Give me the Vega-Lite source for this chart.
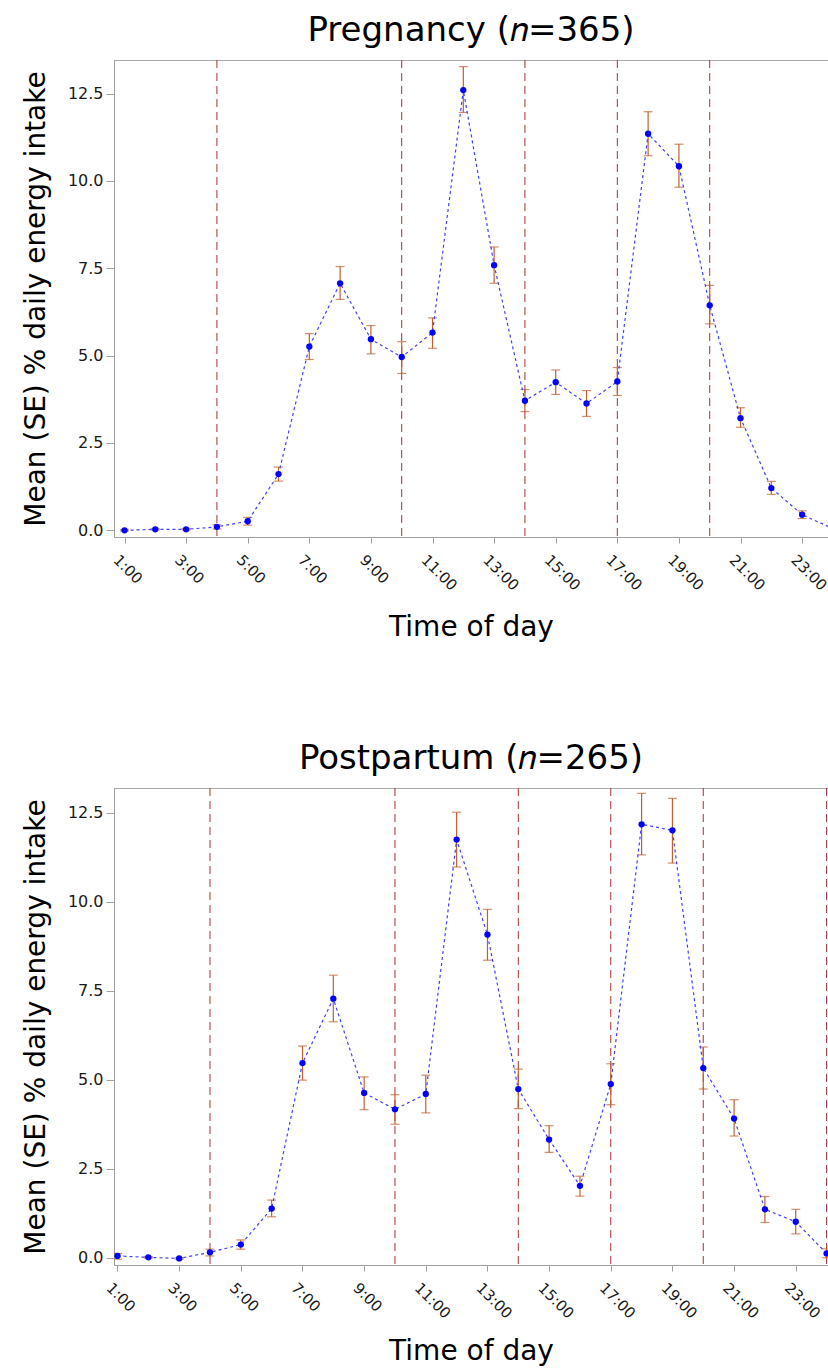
{
  "$schema": "https://vega.github.io/schema/vega-lite/v6.json",
  "background": "white",
  "padding": {"left": 21, "top": 13, "right": 0, "bottom": 0},
  "datasets": {
    "preg": [
      {"hour": 1, "mean": 0.00, "lower": -0.02, "upper": 0.02},
      {"hour": 2, "mean": 0.03, "lower": 0.01, "upper": 0.05},
      {"hour": 3, "mean": 0.03, "lower": 0.01, "upper": 0.05},
      {"hour": 4, "mean": 0.10, "lower": 0.04, "upper": 0.16},
      {"hour": 5, "mean": 0.26, "lower": 0.15, "upper": 0.37},
      {"hour": 6, "mean": 1.61, "lower": 1.41, "upper": 1.81},
      {"hour": 7, "mean": 5.26, "lower": 4.89, "upper": 5.63},
      {"hour": 8, "mean": 7.07, "lower": 6.61, "upper": 7.55},
      {"hour": 9, "mean": 5.47, "lower": 5.05, "upper": 5.86},
      {"hour": 10, "mean": 4.96, "lower": 4.49, "upper": 5.40},
      {"hour": 11, "mean": 5.66, "lower": 5.21, "upper": 6.08},
      {"hour": 12, "mean": 12.60, "lower": 11.96, "upper": 13.27},
      {"hour": 13, "mean": 7.59, "lower": 7.07, "upper": 8.11},
      {"hour": 14, "mean": 3.71, "lower": 3.40, "upper": 4.03},
      {"hour": 15, "mean": 4.24, "lower": 3.89, "upper": 4.59},
      {"hour": 16, "mean": 3.63, "lower": 3.26, "upper": 4.00},
      {"hour": 17, "mean": 4.26, "lower": 3.86, "upper": 4.66},
      {"hour": 18, "mean": 11.35, "lower": 10.72, "upper": 11.98},
      {"hour": 19, "mean": 10.42, "lower": 9.82, "upper": 11.05},
      {"hour": 20, "mean": 6.44, "lower": 5.91, "upper": 7.01},
      {"hour": 21, "mean": 3.21, "lower": 2.95, "upper": 3.51},
      {"hour": 22, "mean": 1.21, "lower": 1.03, "upper": 1.40},
      {"hour": 23, "mean": 0.45, "lower": 0.34, "upper": 0.56},
      {"hour": 24, "mean": 0.05, "lower": -0.03, "upper": 0.13}
    ],
    "post": [
      {"hour": 1, "mean": 0.05, "lower": -0.04, "upper": 0.12},
      {"hour": 2, "mean": 0.01, "lower": -0.01, "upper": 0.03},
      {"hour": 3, "mean": -0.02, "lower": -0.04, "upper": 0.00},
      {"hour": 4, "mean": 0.15, "lower": 0.05, "upper": 0.24},
      {"hour": 5, "mean": 0.37, "lower": 0.24, "upper": 0.50},
      {"hour": 6, "mean": 1.38, "lower": 1.15, "upper": 1.62},
      {"hour": 7, "mean": 5.47, "lower": 4.99, "upper": 5.95},
      {"hour": 8, "mean": 7.28, "lower": 6.63, "upper": 7.94},
      {"hour": 9, "mean": 4.63, "lower": 4.16, "upper": 5.08},
      {"hour": 10, "mean": 4.17, "lower": 3.75, "upper": 4.58},
      {"hour": 11, "mean": 4.60, "lower": 4.07, "upper": 5.13},
      {"hour": 12, "mean": 11.75, "lower": 10.98, "upper": 12.52},
      {"hour": 13, "mean": 9.08, "lower": 8.36, "upper": 9.79},
      {"hour": 14, "mean": 4.74, "lower": 4.19, "upper": 5.30},
      {"hour": 15, "mean": 3.32, "lower": 2.96, "upper": 3.71},
      {"hour": 16, "mean": 2.02, "lower": 1.73, "upper": 2.29},
      {"hour": 17, "mean": 4.88, "lower": 4.30, "upper": 5.45},
      {"hour": 18, "mean": 12.18, "lower": 11.32, "upper": 13.05},
      {"hour": 19, "mean": 12.01, "lower": 11.09, "upper": 12.91},
      {"hour": 20, "mean": 5.33, "lower": 4.74, "upper": 5.92},
      {"hour": 21, "mean": 3.91, "lower": 3.42, "upper": 4.44},
      {"hour": 22, "mean": 1.36, "lower": 0.99, "upper": 1.72},
      {"hour": 23, "mean": 1.01, "lower": 0.67, "upper": 1.36},
      {"hour": 24, "mean": 0.12, "lower": 0.00, "upper": 0.25}
    ],
    "vlines": [
      {"hour": 4}, {"hour": 10}, {"hour": 14}, {"hour": 17}, {"hour": 20}, {"hour": 24}
    ]
  },
  "vconcat": [
    {
      "width": 714,
      "height": 477,
      "title": {"text": "Pregnancy (𝑛=365)"},
      "data": {"name": "preg"},
      "layer": [
        {
          "data": {"name": "vlines"},
          "mark": {"type": "rule", "color": "#a83030", "strokeDash": [8, 5], "strokeWidth": 1, "clip": true},
          "encoding": {
            "x": {"field": "hour", "type": "quantitative",
              "scale": {"domain": [0.659, 23.84], "nice": false, "zero": false},
              "axis": {"values": [1, 3, 5, 7, 9, 11, 13, 15, 17, 19, 21, 23], "labelExpr": "datum.value + ':00'", "labelAngle": 45, "labelFontSize": 15, "labelOffset": -4, "tickSize": 6, "labelPadding": 9, "title": "Time of day", "titlePadding": 20}}
          }
        },
        {
          "mark": {"type": "rule", "color": "#c0602f", "strokeWidth": 1.2, "clip": true},
          "encoding": {
            "x": {"field": "hour", "type": "quantitative"},
            "y": {"field": "lower", "type": "quantitative",
              "scale": {"domain": [-0.19, 13.46], "nice": false, "zero": false},
              "axis": {"values": [0, 2.5, 5, 7.5, 10, 12.5], "format": ".1f", "labelFontSize": 16, "tickSize": 8, "labelPadding": 3, "title": "Mean (SE) % daily energy intake", "titlePadding": 17}},
            "y2": {"field": "upper"}
          }
        },
        {
          "mark": {"type": "tick", "orient": "horizontal", "size": 9, "thickness": 1.2, "color": "#c0602f", "clip": true},
          "encoding": {
            "x": {"field": "hour", "type": "quantitative"},
            "y": {"field": "lower", "type": "quantitative"}
          }
        },
        {
          "mark": {"type": "tick", "orient": "horizontal", "size": 9, "thickness": 1.2, "color": "#c0602f", "clip": true},
          "encoding": {
            "x": {"field": "hour", "type": "quantitative"},
            "y": {"field": "upper", "type": "quantitative"}
          }
        },
        {
          "mark": {"type": "line", "color": "#4040ff", "strokeDash": [3, 3], "strokeWidth": 1.2, "clip": true},
          "encoding": {
            "x": {"field": "hour", "type": "quantitative"},
            "y": {"field": "mean", "type": "quantitative"}
          }
        },
        {
          "mark": {"type": "point", "filled": true, "color": "#0000ff", "size": 40, "opacity": 1, "clip": true},
          "encoding": {
            "x": {"field": "hour", "type": "quantitative"},
            "y": {"field": "mean", "type": "quantitative"}
          }
        }
      ]
    },
    {
      "width": 714,
      "height": 477,
      "title": {"text": "Postpartum (𝑛=265)"},
      "data": {"name": "post"},
      "layer": [
        {
          "data": {"name": "vlines"},
          "mark": {"type": "rule", "color": "#a83030", "strokeDash": [8, 5], "strokeWidth": 1, "clip": true},
          "encoding": {
            "x": {"field": "hour", "type": "quantitative",
              "scale": {"domain": [0.8865, 24.046], "nice": false, "zero": false},
              "axis": {"values": [1, 3, 5, 7, 9, 11, 13, 15, 17, 19, 21, 23], "labelExpr": "datum.value + ':00'", "labelAngle": 45, "labelFontSize": 15, "labelOffset": -4, "tickSize": 6, "labelPadding": 9, "title": "Time of day", "titlePadding": 16}}
          }
        },
        {
          "mark": {"type": "rule", "color": "#c0602f", "strokeWidth": 1.2, "clip": true},
          "encoding": {
            "x": {"field": "hour", "type": "quantitative"},
            "y": {"field": "lower", "type": "quantitative",
              "scale": {"domain": [-0.205, 13.2], "nice": false, "zero": false},
              "axis": {"values": [0, 2.5, 5, 7.5, 10, 12.5], "format": ".1f", "labelFontSize": 16, "tickSize": 8, "labelPadding": 3, "title": "Mean (SE) % daily energy intake", "titlePadding": 17}},
            "y2": {"field": "upper"}
          }
        },
        {
          "mark": {"type": "tick", "orient": "horizontal", "size": 9, "thickness": 1.2, "color": "#c0602f", "clip": true},
          "encoding": {
            "x": {"field": "hour", "type": "quantitative"},
            "y": {"field": "lower", "type": "quantitative"}
          }
        },
        {
          "mark": {"type": "tick", "orient": "horizontal", "size": 9, "thickness": 1.2, "color": "#c0602f", "clip": true},
          "encoding": {
            "x": {"field": "hour", "type": "quantitative"},
            "y": {"field": "upper", "type": "quantitative"}
          }
        },
        {
          "mark": {"type": "line", "color": "#4040ff", "strokeDash": [3, 3], "strokeWidth": 1.2, "clip": true},
          "encoding": {
            "x": {"field": "hour", "type": "quantitative"},
            "y": {"field": "mean", "type": "quantitative"}
          }
        },
        {
          "mark": {"type": "point", "filled": true, "color": "#0000ff", "size": 40, "opacity": 1, "clip": true},
          "encoding": {
            "x": {"field": "hour", "type": "quantitative"},
            "y": {"field": "mean", "type": "quantitative"}
          }
        }
      ]
    }
  ],
  "spacing": 99,
  "config": {
    "font": "DejaVu Sans",
    "view": {"stroke": "#a8a8a8"},
    "axis": {
      "domainColor": "#a0a0a0",
      "tickColor": "#a0a0a0",
      "grid": false,
      "labelFont": "DejaVu Sans",
      "labelColor": "#1a1a1a",
      "titleFont": "DejaVu Sans",
      "titleFontSize": 28,
      "titleFontWeight": "normal",
      "titleColor": "#000000"
    },
    "title": {
      "font": "DejaVu Sans",
      "fontSize": 34,
      "fontWeight": "normal",
      "color": "#000000",
      "frame": "group",
      "anchor": "middle",
      "offset": 12
    }
  }
}
